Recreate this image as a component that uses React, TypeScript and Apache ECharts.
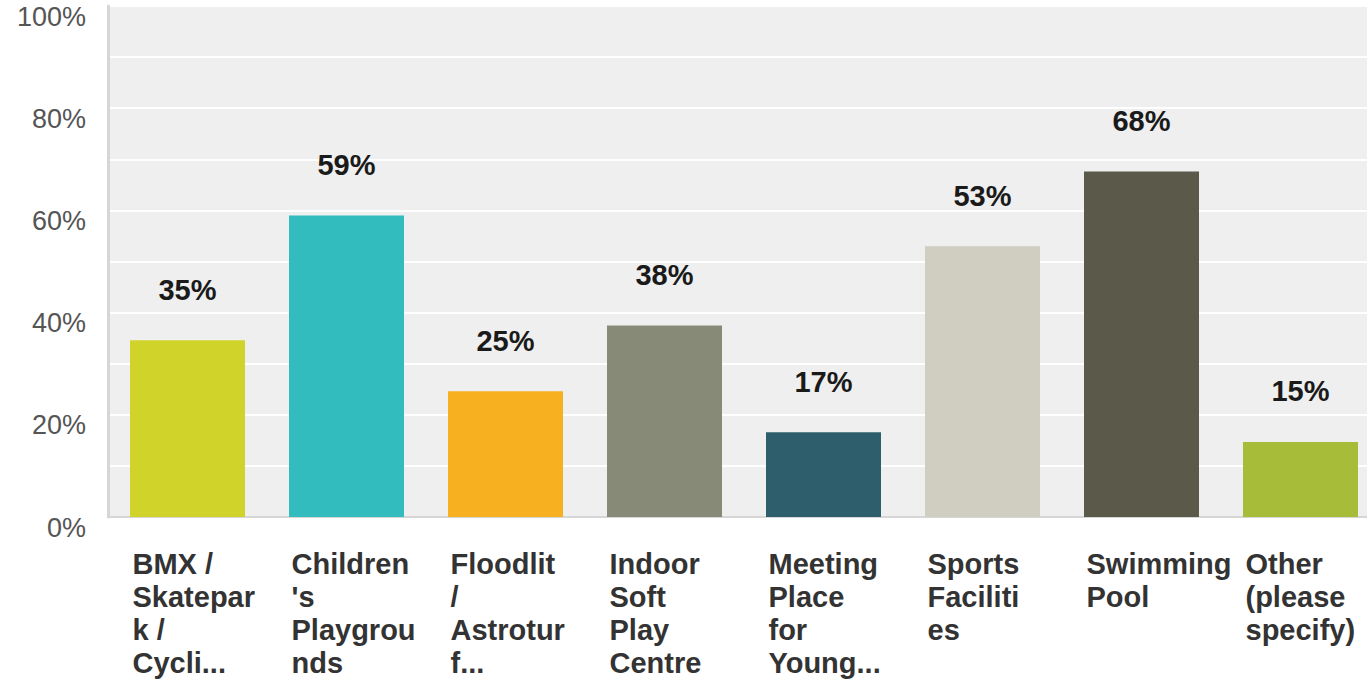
import React, { useEffect, useRef } from "react";
import * as echarts from "echarts";

const categories = [
  "BMX /\nSkatepar\nk /\nCycli...",
  "Children\n's\nPlaygrou\nnds",
  "Floodlit\n/\nAstrotur\nf...",
  "Indoor\nSoft\nPlay\nCentre",
  "Meeting\nPlace\nfor\nYoung...",
  "Sports\nFaciliti\nes",
  "Swimming\nPool",
  "Other\n(please\nspecify)",
];
const values = [34.6, 59.0, 24.6, 37.5, 16.6, 53.0, 67.6, 14.7];
const barColors = [
  "#cfd32a",
  "#33bcbe",
  "#f6b020",
  "#888a78",
  "#2e5e6b",
  "#cfcec0",
  "#5b5a4a",
  "#a7bc38",
];
const yTicks = [0, 20, 40, 60, 80, 100];

export default function App() {
  const ref = useRef<HTMLDivElement>(null);
  useEffect(() => {
    if (!ref.current) return;
    const chart = echarts.init(ref.current, null, { renderer: "svg" });
    chart.setOption({
      animation: false,
      grid: {
        left: 108,
        top: 6,
        width: 1272,
        height: 511,
        show: true,
        backgroundColor: "#efefef",
        borderWidth: 0,
        containLabel: false,
        outerBoundsMode: "none",
      },
      xAxis: {
        type: "category",
        data: categories,
        axisLine: { show: true, lineStyle: { color: "#d6d6d6", width: 2 } },
        axisTick: { show: false },
        axisLabel: {
          interval: 0,
          align: "left",
          verticalAlign: "top",
          margin: 30,
          padding: [0, 0, 0, -55],
          fontFamily: "Liberation Sans, Arial, sans-serif",
          fontWeight: "bold",
          fontSize: 29,
          lineHeight: 33,
          color: "#333333",
        },
      },
      yAxis: {
        type: "value",
        min: 0,
        max: 100,
        interval: 10,
        axisLine: { show: true, lineStyle: { color: "#d6d6d6", width: 3 } },
        axisTick: { show: false },
        splitLine: { show: true, lineStyle: { color: "#ffffff", width: 2 } },
        axisLabel: {
          margin: 22,
          verticalAlign: "top",
          lineHeight: 21,
          fontFamily: "Liberation Sans, Arial, sans-serif",
          fontSize: 27,
          color: "#555555",
          formatter: (v: number) => (yTicks.includes(v) ? v + "%" : ""),
        },
      },
      series: [
        {
          type: "bar",
          data: values.map((v, i) => ({ value: v, itemStyle: { color: barColors[i] } })),
          barWidth: 115,
          label: {
            show: true,
            position: "top",
            distance: 36,
            fontFamily: "Liberation Sans, Arial, sans-serif",
            fontWeight: "bold",
            fontSize: 29,
            lineHeight: 29,
            color: "#1a1a1a",
            formatter: (p: any) => Math.round(p.value) + "%",
          },
        },
      ],
    });
    return () => chart.dispose();
  }, []);
  return (
    <div
      ref={ref}
      style={{ position: "fixed", left: 0, top: 0, width: 1367, height: 679, background: "#ffffff" }}
    />
  );
}
